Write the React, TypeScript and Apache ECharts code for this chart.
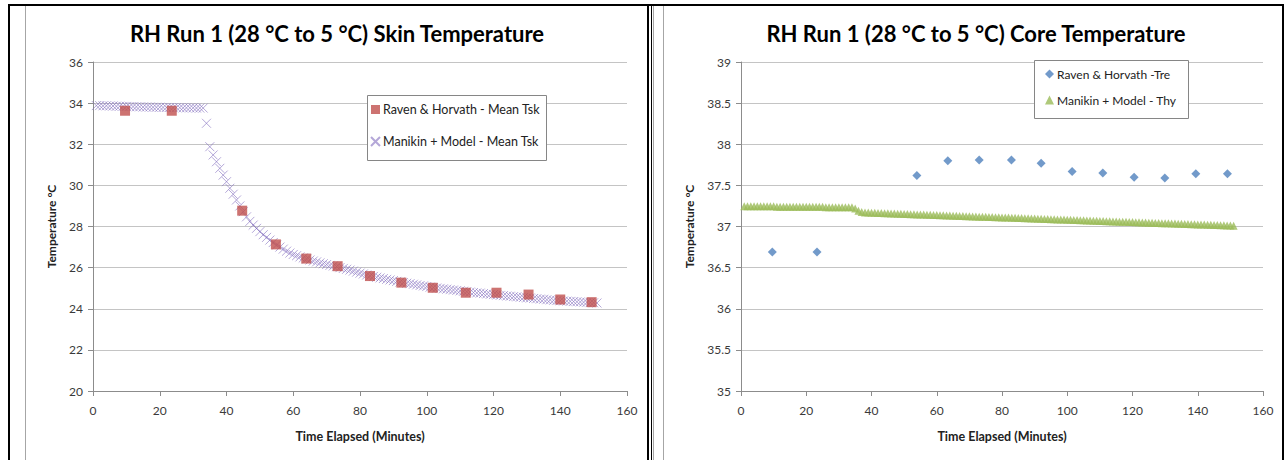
import React, { useEffect, useRef } from "react";
import * as echarts from "echarts";

// ---------- data ----------
const skinTitle = "RH Run 1 (28 °C to 5 °C) Skin Temperature";
const coreTitle = "RH Run 1 (28 °C to 5 °C) Core Temperature";
const xAxisName = "Time Elapsed (Minutes)";
const yAxisName = "Temperature °C";

const ravenSkinName = "Raven & Horvath - Mean Tsk";
const modelSkinName = "Manikin + Model - Mean Tsk";
const ravenCoreName = "Raven & Horvath -Tre";
const modelCoreName = "Manikin + Model - Thy";

// Raven & Horvath measurements (minutes, °C)
const ravenSkinMinutes = [9.6, 23.6, 44.7, 54.8, 63.9, 73.3, 83.0, 92.4, 101.8, 111.7, 120.9, 130.5, 140.0, 149.4];
const ravenSkinTemp = [33.63, 33.63, 28.77, 27.13, 26.44, 26.07, 25.59, 25.27, 25.02, 24.78, 24.78, 24.69, 24.45, 24.32];

const ravenCoreMinutes = [9.6, 23.3, 53.9, 63.4, 73.0, 82.9, 92.0, 101.5, 110.9, 120.5, 129.9, 139.4, 149.1];
const ravenCoreTemp = [36.69, 36.69, 37.62, 37.8, 37.81, 37.81, 37.77, 37.67, 37.65, 37.6, 37.59, 37.64, 37.64];

// Manikin + Model, one reading per minute starting at minute 1
const modelMinutes = Array.from({ length: 151 }, (_, i) => i + 1);
const modelSkinTemp = [
  33.88, 33.88, 33.87, 33.87, 33.86, 33.86, 33.85, 33.85, 33.84, 33.84,
  33.83, 33.83, 33.82, 33.82, 33.81, 33.81, 33.81, 33.8, 33.8, 33.8,
  33.79, 33.79, 33.79, 33.78, 33.78, 33.78, 33.77, 33.77, 33.77, 33.77,
  33.76, 33.76, 33.76,
  33.02, 31.88, 31.48, 31.15, 30.83, 30.5, 30.18, 29.86, 29.57, 29.29,
  29.0, 28.72, 28.47, 28.25, 28.07, 27.91, 27.75, 27.6, 27.47, 27.34,
  27.22, 27.1, 27.0, 26.9, 26.8, 26.71, 26.64, 26.58, 26.52, 26.47,
  26.42, 26.37, 26.32, 26.28, 26.23, 26.19, 26.15, 26.11, 26.08, 26.05,
  26.0, 25.96, 25.92, 25.88, 25.83, 25.78, 25.73, 25.69, 25.64, 25.6,
  25.57, 25.53, 25.5, 25.47, 25.43, 25.4, 25.37, 25.33, 25.3, 25.27,
  25.24, 25.22, 25.19, 25.16, 25.13, 25.11, 25.08, 25.05, 25.03, 25.01,
  24.99, 24.97, 24.95, 24.93, 24.91, 24.89, 24.87, 24.85, 24.83, 24.81,
  24.79, 24.77, 24.76, 24.74, 24.72, 24.7, 24.69, 24.67, 24.65, 24.64,
  24.62, 24.61, 24.59, 24.58, 24.56, 24.55, 24.53, 24.52, 24.5, 24.49,
  24.47, 24.46, 24.44, 24.43, 24.41, 24.4, 24.39, 24.38, 24.37, 24.36,
  24.35, 24.34, 24.33, 24.32, 24.31, 24.3, 24.29, 24.28,
];
const modelCoreTemp = [
  37.245, 37.245, 37.245, 37.245, 37.245, 37.245, 37.245, 37.245, 37.245, 37.245,
  37.24, 37.24, 37.24, 37.24, 37.24, 37.24, 37.24, 37.24, 37.24, 37.24,
  37.24, 37.24, 37.24, 37.24, 37.24,
  37.235, 37.235, 37.235, 37.235, 37.235, 37.235, 37.235, 37.235, 37.235,
  37.22, 37.19, 37.175,
  37.17, 37.169, 37.167, 37.166, 37.164, 37.163, 37.162, 37.16, 37.159, 37.157,
  37.156, 37.154, 37.153, 37.152, 37.15, 37.149, 37.147, 37.146, 37.145, 37.143,
  37.142, 37.14, 37.139, 37.137, 37.136, 37.135, 37.133, 37.132, 37.13, 37.129,
  37.128, 37.126, 37.125, 37.123, 37.122, 37.12, 37.119, 37.118, 37.116, 37.115,
  37.113, 37.112, 37.11, 37.109, 37.108, 37.106, 37.105, 37.103, 37.102, 37.1,
  37.099, 37.098, 37.096, 37.095, 37.093, 37.092, 37.091, 37.089, 37.088, 37.086,
  37.085, 37.084, 37.082, 37.081, 37.079, 37.078, 37.076, 37.075, 37.074, 37.072,
  37.071, 37.069, 37.068, 37.067, 37.065, 37.064, 37.062, 37.061, 37.059, 37.058,
  37.057, 37.055, 37.054, 37.052, 37.051, 37.05, 37.048, 37.047, 37.045, 37.044,
  37.042, 37.041, 37.04, 37.038, 37.037, 37.035, 37.034, 37.033, 37.031, 37.03,
  37.028, 37.027, 37.025, 37.024, 37.023, 37.021, 37.02, 37.018, 37.017, 37.016,
  37.014, 37.013, 37.011, 37.01,
];

// ---------- styling ----------
const FONT = "Lato, 'Open Sans', sans-serif";
const GRID_COLOR = "#c4c4c4";
const AXIS_COLOR = "#8c8c8c";
const LABEL_COLOR = "#3a3a3a";
const CROSS = "path://M0,0L10,10M10,0L0,10";

const pairs = (xs: number[], ys: number[]) => xs.map((x, i) => [x, ys[i]]);

function xAxisFor(gridIndex: number) {
  return {
    gridIndex,
    type: "value",
    min: 0,
    max: 160,
    interval: 20,
    name: xAxisName,
    nameLocation: "middle",
    nameGap: 39,
    nameTextStyle: { fontFamily: FONT, fontSize: 12.5, fontWeight: "bold", color: "#222" },
    axisLine: { show: true, lineStyle: { color: AXIS_COLOR, width: 1 } },
    axisTick: { show: true, inside: false, length: 5, lineStyle: { color: AXIS_COLOR } },
    axisLabel: { fontFamily: FONT, fontSize: 12, color: LABEL_COLOR, margin: 13 },
    splitLine: { show: false },
  };
}

function yAxisFor(gridIndex: number, min: number, max: number, interval: number, nameGap: number) {
  return {
    gridIndex,
    type: "value",
    min,
    max,
    interval,
    name: yAxisName,
    nameLocation: "middle",
    nameRotate: 90,
    nameGap,
    nameTextStyle: { fontFamily: FONT, fontSize: 12, fontWeight: "bold", color: "#222" },
    axisLine: { show: true, lineStyle: { color: AXIS_COLOR, width: 1 } },
    axisTick: { show: true, inside: false, length: 5, lineStyle: { color: AXIS_COLOR } },
    axisLabel: { fontFamily: FONT, fontSize: 12, color: LABEL_COLOR, margin: 10 },
    splitLine: { show: true, lineStyle: { color: GRID_COLOR, width: 1 } },
  };
}

function frameLine(x1: number, y1: number, x2: number, y2: number, color: string, width: number) {
  return {
    type: "line",
    z: 20,
    shape: { x1, y1, x2, y2 },
    style: { stroke: color, lineWidth: width },
    silent: true,
  };
}

export default function App() {
  const ref = useRef<HTMLDivElement>(null);

  useEffect(() => {
    if (!ref.current) return;
    const chart = echarts.init(ref.current, undefined, { renderer: "svg" });

    const option = {
      animation: false,
      backgroundColor: "#ffffff",
      grid: [
        { left: 93, top: 62, width: 534, height: 329 },
        { left: 741, top: 62, width: 522, height: 329 },
      ],
      xAxis: [xAxisFor(0), xAxisFor(1)],
      yAxis: [yAxisFor(0, 20, 36, 2, 36), yAxisFor(1, 35, 39, 0.5, 46)],
      legend: [
        {
          orient: "vertical",
          left: 370,
          top: 103,
          itemGap: 19,
          itemWidth: 9,
          itemHeight: 9,
          padding: 0,
          data: [ravenSkinName, modelSkinName],
          textStyle: { fontFamily: FONT, fontSize: 12.5, color: "#222", padding: [0, 0, 0, -2] },
        },
        {
          orient: "vertical",
          left: 1045,
          top: 68,
          itemGap: 14,
          itemWidth: 9,
          itemHeight: 9,
          padding: 0,
          data: [ravenCoreName, modelCoreName],
          textStyle: { fontFamily: FONT, fontSize: 12, color: "#222", padding: [0, 0, 0, -2] },
        },
      ],
      series: [
        {
          name: ravenSkinName,
          type: "scatter",
          xAxisIndex: 0,
          yAxisIndex: 0,
          z: 4,
          symbol: "rect",
          symbolSize: 10,
          itemStyle: { color: "#c0504d" },
          data: pairs(ravenSkinMinutes, ravenSkinTemp),
        },
        {
          name: modelSkinName,
          type: "scatter",
          xAxisIndex: 0,
          yAxisIndex: 0,
          z: 3,
          symbol: CROSS,
          symbolSize: 9,
          itemStyle: { color: "rgba(0,0,0,0)", borderColor: "rgba(130,108,190,0.75)", borderWidth: 1 },
          data: pairs(modelMinutes, modelSkinTemp),
        },
        {
          name: ravenCoreName,
          type: "scatter",
          xAxisIndex: 1,
          yAxisIndex: 1,
          z: 4,
          symbol: "diamond",
          symbolSize: 9,
          itemStyle: { color: "#4f81bd" },
          data: pairs(ravenCoreMinutes, ravenCoreTemp),
        },
        {
          name: modelCoreName,
          type: "scatter",
          xAxisIndex: 1,
          yAxisIndex: 1,
          z: 3,
          symbol: "triangle",
          symbolSize: 8,
          itemStyle: { color: "#9bbb59" },
          data: pairs(modelMinutes, modelCoreTemp),
        },
      ],
      graphic: [
        {
          type: "text",
          x: 337,
          y: 33,
          z: 20,
          style: { text: skinTitle, align: "center", verticalAlign: "middle", fontFamily: FONT, fontSize: 22, fontWeight: "bold", fill: "#000" },
        },
        {
          type: "text",
          x: 976,
          y: 33,
          z: 20,
          style: { text: coreTitle, align: "center", verticalAlign: "middle", fontFamily: FONT, fontSize: 22, fontWeight: "bold", fill: "#000" },
        },
        {
          type: "rect",
          z: 3,
          shape: { x: 367.5, y: 95.5, width: 179, height: 65 },
          style: { fill: "#fff", stroke: "#868686", lineWidth: 1 },
          silent: true,
        },
        {
          type: "rect",
          z: 3,
          shape: { x: 1034.5, y: 60.5, width: 154, height: 58 },
          style: { fill: "#fff", stroke: "#868686", lineWidth: 1 },
          silent: true,
        },
        frameLine(8, 5, 1284, 5, "#000", 2),
        frameLine(9, 5, 9, 460, "#000", 2),
        frameLine(648, 5, 648, 460, "#000", 2),
        frameLine(651.5, 5, 651.5, 460, "#000", 1),
        frameLine(1283, 5, 1283, 460, "#000", 2),
        frameLine(25.5, 6, 25.5, 460, "#a6a6a6", 1),
        frameLine(653.5, 6, 653.5, 460, "#a6a6a6", 1),
        frameLine(663.5, 6, 663.5, 460, "#a6a6a6", 1),
      ],
    };

    chart.setOption(option as any);
    return () => chart.dispose();
  }, []);

  return (
    <div
      ref={ref}
      style={{ position: "fixed", left: 0, top: 0, width: 1285, height: 460, background: "#fff" }}
    />
  );
}
